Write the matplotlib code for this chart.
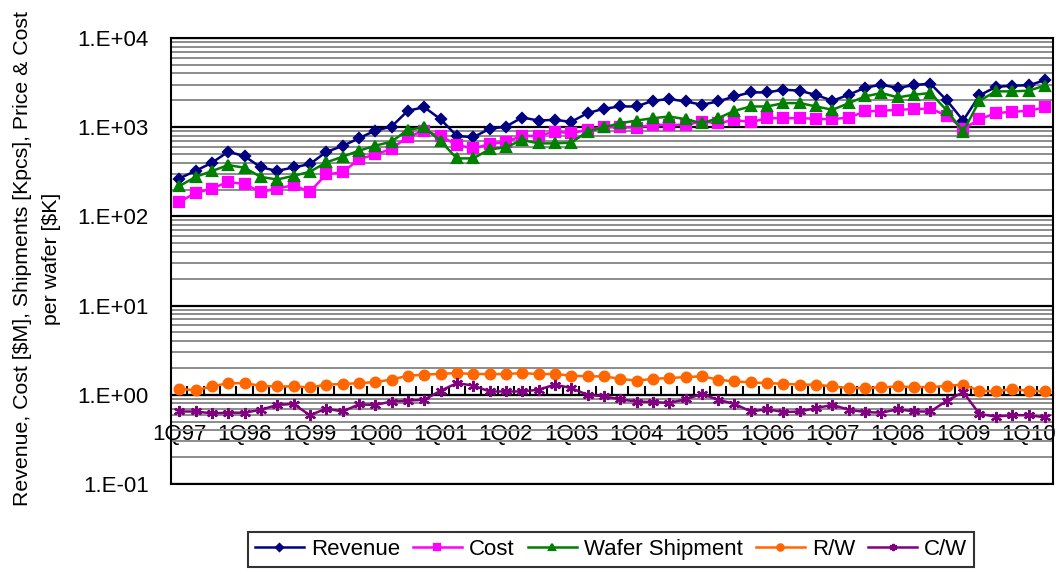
import numpy as np
import matplotlib
matplotlib.use('Agg')
import matplotlib.pyplot as plt
from matplotlib import font_manager
from matplotlib.ticker import FixedLocator, NullFormatter

# quarterly data 1Q97 .. 2Q10
quarters = ['%dQ%02d' % (q, y % 100) for y in range(1997, 2011) for q in range(1, 5)][:54]

revenue = [266, 324, 399, 531, 474, 354, 324, 354, 386, 527, 615, 751, 916, 1016,
           1527, 1679, 1230, 798, 771, 957, 1016, 1284, 1188, 1209, 1148, 1438, 1610, 1708,
           1708, 1980, 2067, 1946, 1784, 1946, 2215, 2456, 2456, 2634, 2565, 2294, 1980,
           2313, 2773, 2998, 2750, 2973, 3077, 1997, 1188, 2275, 2825, 2924, 2950, 3356]
cost = [145, 183, 205, 244, 230, 188, 205, 224, 188, 297, 311, 436, 496, 569,
        784, 908, 798, 632, 580, 643, 689, 798, 798, 893, 855, 933, 999, 1000,
        990, 1062, 1062, 1062, 1157, 1108, 1209, 1138, 1262, 1262, 1262, 1241, 1230,
        1284, 1501, 1527, 1567, 1594, 1622, 1342, 957, 1230, 1438, 1488, 1527, 1665]
wafers = [218, 277, 322, 376, 351, 277, 259, 285, 316, 403, 466, 545, 620, 689,
          933, 999, 700, 447, 447, 565, 594, 719, 659, 659, 671, 893, 999, 1108,
          1188, 1262, 1318, 1230, 1108, 1262, 1527, 1708, 1708, 1863, 1863, 1708, 1567,
          1863, 2215, 2417, 2158, 2313, 2417, 1540, 893, 1980, 2522, 2522, 2565, 2924]
r_per_w = [1.17, 1.12, 1.24, 1.35, 1.35, 1.26, 1.24, 1.24, 1.21, 1.30, 1.32, 1.35, 1.39, 1.48,
           1.64, 1.68, 1.72, 1.75, 1.71, 1.71, 1.71, 1.75, 1.71, 1.71, 1.64, 1.61, 1.61, 1.51,
           1.44, 1.51, 1.54, 1.58, 1.61, 1.48, 1.41, 1.38, 1.35, 1.33, 1.30, 1.30, 1.24,
           1.19, 1.19, 1.21, 1.24, 1.22, 1.22, 1.26, 1.30, 1.11, 1.09, 1.16, 1.11, 1.09]
c_per_w = [0.65, 0.65, 0.62, 0.63, 0.63, 0.68, 0.77, 0.79, 0.59, 0.70, 0.65, 0.78, 0.77, 0.84,
           0.86, 0.88, 1.11, 1.35, 1.27, 1.09, 1.09, 1.09, 1.14, 1.30, 1.19, 1.00, 0.96, 0.89,
           0.84, 0.83, 0.81, 0.89, 1.02, 0.88, 0.79, 0.65, 0.69, 0.64, 0.65, 0.71, 0.77,
           0.68, 0.64, 0.63, 0.69, 0.65, 0.65, 0.86, 1.07, 0.61, 0.57, 0.59, 0.59, 0.56]

names = {f.name for f in font_manager.fontManager.ttflist}
if 'Liberation Sans Narrow' in names:
    fam, fs, fs_lab = 'Liberation Sans Narrow', 18, 18
else:
    fam, fs, fs_lab = 'Liberation Sans', 16, 15.3
plt.rcParams['font.family'] = [fam, 'DejaVu Sans']

W, H = 1056, 574
fig = plt.figure(figsize=(W / 100, H / 100), dpi=100)
ax = fig.add_axes([171 / W, 1 - 484 / H, 882 / W, 446 / H])

x = np.arange(len(quarters))
series = [
    ('Revenue', revenue, '#000080', 'D', 5.5),
    ('Cost', cost, '#FF00FF', 's', 6.5),
    ('Wafer Shipment', wafers, '#008000', '^', 7),
    ('R/W', r_per_w, '#FF6600', 'o', 7),
    ('C/W', c_per_w, '#800080', (6, 2, 0), 8),
]
for name, vals, col, mk, ms in series:
    ax.plot(x, vals, color=col, marker=mk, ms=ms, lw=1.8, mew=1.6,
            mec=col, mfc=col, label=name, zorder=3)

ax.set_yscale('log')
ax.set_ylim(0.1, 10000)
ax.set_xlim(-0.5, len(quarters) - 0.5)

# y axis: decades labelled 1.E+xx, minor grid at 2..9
decades = [10.0 ** e for e in range(-1, 5)]
ax.set_yticks(decades)
ax.set_yticklabels(['1.E%+03d' % e for e in range(-1, 5)])
minors = [m * 10.0 ** e for e in range(-1, 4) for m in range(2, 10)]
ax.yaxis.set_minor_locator(FixedLocator(minors))
ax.yaxis.set_minor_formatter(NullFormatter())
ax.tick_params(axis='y', which='both', length=0, pad=16, labelsize=fs)
ax.grid(axis='y', which='major', color='black', lw=1.6, zorder=1)
ax.grid(axis='y', which='minor', color='#8c8c8c', lw=1.4, zorder=1)

# x axis crosses at 1.0, ticks between categories, a label every 4 quarters
ax.spines['bottom'].set_position(('data', 1))
ax.set_xticks(np.arange(-0.5, len(quarters), 1))
ax.set_xticklabels([])
ax.set_xticks(x[::4], minor=True)
ax.set_xticklabels(quarters[::4], minor=True)
ax.tick_params(axis='x', which='major', direction='in', length=6.5, width=1.5)
ax.tick_params(axis='x', which='minor', length=0, pad=21, labelsize=fs)
ax.axhline(0.1, color='black', lw=1.5, clip_on=False, zorder=4)

for s in ax.spines.values():
    s.set_linewidth(1.5)
    s.set_color('black')

fig.text(37 / W, 1 - 258.5 / H,
         'Revenue, Cost [$M], Shipments [Kpcs], Price & Cost\nper wafer [$K]',
         rotation=90, ha='center', va='center', multialignment='center',
         linespacing=1.65, fontsize=fs_lab)

leg = fig.legend(loc='center', bbox_to_anchor=(611 / W, 1 - 549.5 / H), ncol=5,
                 fontsize=fs, frameon=True, fancybox=False, edgecolor='black',
                 handlelength=2.2, handletextpad=0.32, columnspacing=0.59,
                 borderpad=0.3, markerscale=0.65)
leg.get_frame().set_linewidth(1.5)

fig.savefig('out.png', dpi=100)
